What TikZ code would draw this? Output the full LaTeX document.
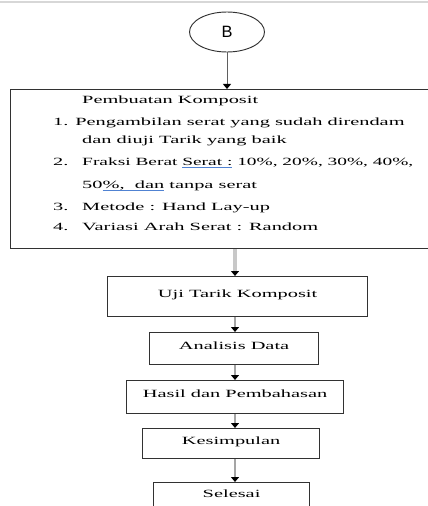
\documentclass[tikz,border=0pt]{standalone}
\usepackage{fontspec}
\setmainfont{Liberation Serif}[FakeStretch=1.85]
\newfontfamily\narrowserif{Liberation Serif}[FakeStretch=1.76]
\newfontfamily\circlefont{Liberation Sans}
\usetikzlibrary{
  shapes.geometric,
  arrows.meta
}
\definecolor{boxline}{RGB}{50,50,50}
\definecolor{rulegray}{RGB}{215,215,215}
\definecolor{shaftlight}{RGB}{200,200,200}
\definecolor{shaftgray}{RGB}{165,165,165}
\definecolor{shaftdark}{RGB}{95,95,95}
\definecolor{spellblue}{RGB}{80,130,210}
\newcommand{\bodyfont}{\fontsize{9.4}{11}\selectfont}
\newsavebox{\spellbox}
\newcommand{\spellmark}[1]{\sbox{\spellbox}{#1}\rlap{\textcolor{spellblue}{\rule[-0.35ex]{\wd\spellbox}{0.6pt}}}\usebox{\spellbox}}
\tikzset{
  connector/.style={
    ellipse, draw=boxline, line width=0.8pt,
    minimum width=2.25cm, minimum height=1.2cm,
    font=\circlefont\fontsize{14}{16}\selectfont
  },
  groupbox/.style={
    draw=boxline, line width=1pt, anchor=north west
  },
  itemtext/.style={
    anchor=west, inner sep=0pt, font=\bodyfont,
    text height=0.66em, text depth=0pt
  },
  stepbox/.style={
    draw=boxline, line width=1pt, anchor=north west,
    inner sep=0pt, font=\bodyfont,
    text height=0.66em, text depth=0.55em
  },
  thinarrow/.style={
    -{Triangle[length=1.5mm,width=2.4mm,color=black]},
    draw=shaftdark, line width=0.8pt
  },
  wideflow/.style={
    -{Triangle[length=1.5mm,width=2.4mm,color=black]},
    draw=shaftlight, line width=3.2pt
  },
  flow/.style={
    -{Triangle[length=1.5mm,width=2.4mm,color=black]},
    draw=shaftgray, line width=1.6pt
  },
  toprule/.style={draw=rulegray, line width=0.06cm}
}
\begin{document}
\begin{tikzpicture}[x=0.03cm, y=-0.03cm]
  \useasboundingbox (0,0) rectangle (428,506);
  \clip (0,0) rectangle (428,506);

  %% page rule
  \draw[toprule] (0,2) -- (428,2);

  %% off-page connector
  \node[connector] (B) at (227,32) {B};

  %% composite preparation
  \node[groupbox, minimum width=12.9cm, minimum height=4.77cm] (make) at (10,89) {};
  \node[itemtext] (make0) at (82,100) {Pembuatan Komposit};
  \node[itemtext] (make1) at (53,122) {1. Pengambilan serat yang sudah direndam};
  \node[itemtext] (make1b) at (82,140) {dan diuji Tarik yang baik};
  \node[itemtext] (num2) at (53,162) {2.};
  \node[itemtext, font=\narrowserif\bodyfont] (make2) at (82,162) {Fraksi Berat \spellmark{Serat :} 10\%, 20\%, 30\%, 40\%,};
  \node[itemtext] (make2b) at (82,185) {50\spellmark{\%,\ \ dan} tanpa serat};
  \node[itemtext] (num3) at (53,207) {3.};
  \node[itemtext] (make3) at (82,207) {Metode : Hand Lay-up};
  \node[itemtext] (num4) at (53,227) {4.};
  \node[itemtext] (make4) at (82,227) {Variasi Arah Serat : Random};

  %% steps
  \node[stepbox, minimum width=7.8cm, minimum height=1.2cm] (uji) at (107,276) {Uji Tarik Komposit};
  \node[stepbox, minimum width=5.07cm, minimum height=0.96cm] (anl) at (149,332) {Analisis Data};
  \node[stepbox, minimum width=6.51cm, minimum height=0.99cm] (hsl) at (126,380) {Hasil dan Pembahasan};
  \node[stepbox, minimum width=5.31cm, minimum height=0.9cm] (kes) at (142,428) {Kesimpulan};
  \node[stepbox, minimum width=4.68cm, minimum height=0.84cm] (sls) at (153,482) {Selesai};

  %% arrows
  \coordinate (col) at (235,0);
  \draw[thinarrow] (B.south) -- (make.north -| B);
  \draw[wideflow] (make.south -| col) -- (uji.north -| col);
  \draw[flow] (uji.south -| col) -- (anl.north -| col);
  \draw[flow] (anl.south -| col) -- (hsl.north -| col);
  \draw[flow] (hsl.south -| col) -- (kes.north -| col);
  \draw[flow] (kes.south -| col) -- (sls.north -| col);

\end{tikzpicture}
\end{document}
